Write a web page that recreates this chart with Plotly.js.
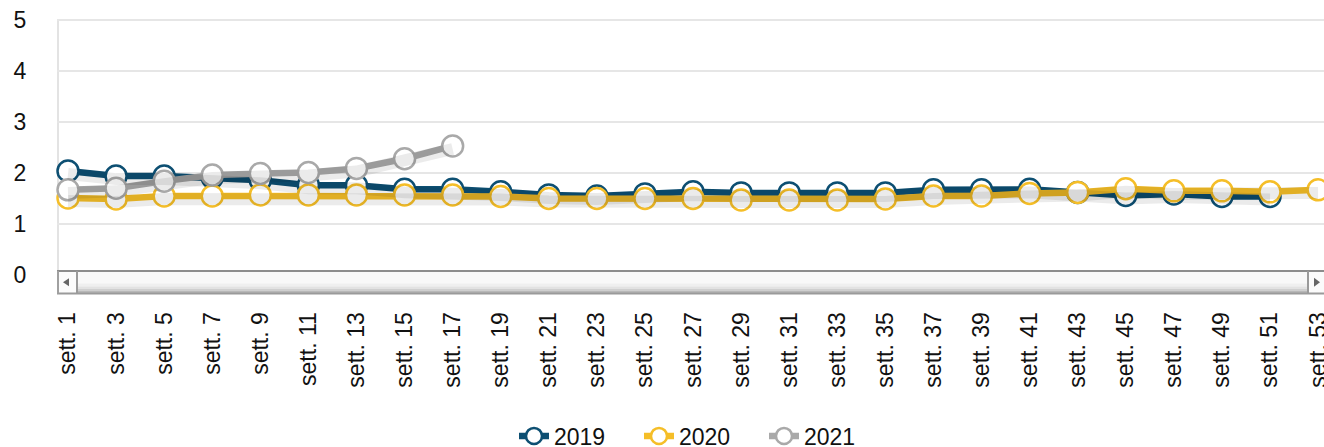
<!DOCTYPE html>
<html>
<head>
<meta charset="utf-8">
<script src="https://cdn.plot.ly/plotly-3.0.1.min.js"></script>
<style>html,body{margin:0;padding:0;background:#fff;}#chart{width:1324px;height:447px;}</style>
</head>
<body>
<div id="chart"></div>
<script>
// ---- data ----
const weeks = ["sett. 1","sett. 3","sett. 5","sett. 7","sett. 9","sett. 11","sett. 13","sett. 15","sett. 17","sett. 19","sett. 21","sett. 23","sett. 25","sett. 27","sett. 29","sett. 31","sett. 33","sett. 35","sett. 37","sett. 39","sett. 41","sett. 43","sett. 45","sett. 47","sett. 49","sett. 51","sett. 53"];
const values2019 = [2.04,1.94,1.94,1.91,1.86,1.76,1.76,1.68,1.68,1.63,1.57,1.55,1.59,1.63,1.61,1.61,1.61,1.61,1.67,1.67,1.68,1.62,1.56,1.59,1.54,1.54,null];
const values2020 = [1.51,1.49,1.55,1.55,1.57,1.57,1.57,1.57,1.57,1.54,1.50,1.50,1.50,1.50,1.47,1.47,1.47,1.49,1.55,1.55,1.60,1.62,1.69,1.65,1.65,1.63,1.67];
const values2021 = [1.67,1.70,1.84,1.96,1.99,2.01,2.09,2.28,2.53];
const seriesNames = ["2019","2020","2021"];
const yTicks = [0,1,2,3,4,5];

// ---- styling ----
const colors = ["#0d4f72","#f5be28","#a9a9a9"];
const W = 1324, H = 447;
const plotL = 57, plotR = 1324, plotT = 19.5, plotB = 275.5;
const px = x => (x - plotL) / (plotR - plotL);
const py = y => (plotB - y) / (plotB - plotT);

function mk(name, vals, color){
  return {
    type: "scatter", mode: "lines+markers", name: name,
    x: weeks.slice(0, vals.length), y: vals,
    line: {color: color, width: 6.5},
    marker: {size: 21, color: "#ffffff", line: {color: color, width: 2.5}},
    connectgaps: false, cliponaxis: false
  };
}
// soft shadows under lines
function shadow(vals){
  return {
    type: "scatter", mode: "lines", showlegend: false, hoverinfo: "skip",
    x: weeks.slice(0, vals.length), y: vals,
    line: {color: "rgba(0,0,0,0.08)", width: 12},
    yaxis: "y2"
  };
}
const allVals = [values2019, values2020, values2021];
const traces = [];
allVals.forEach(v => traces.push(shadow(v)));
allVals.forEach((v, i) => traces.push(mk(seriesNames[i], v, colors[i])));

const shapes = [];
const sbTop = 271.5, sbBot = 294, btnL = 77, btnR = 1308;
function rect(x0,y0,x1,y1,fill){
  shapes.push({type:"rect", xref:"paper", yref:"paper", x0:px(x0), x1:px(x1), y0:py(y0), y1:py(y1),
    fillcolor: fill, line:{width:0}, layer:"above"});
}
function seg(x0,y0,x1,y1,color,w,layer){
  shapes.push({type:"line", xref:"paper", yref:"paper", x0:px(x0), x1:px(x1), y0:py(y0), y1:py(y1),
    line:{color:color, width:w}, layer: layer || "above"});
}
// plot frame (left and top)
seg(plotL+1, sbTop, plotL+1, plotT, "#e3e3e3", 2, "below");
seg(plotL, plotT, plotR, plotT, "#e6e6e6", 2, "below");
// scrollbar body gradient
rect(plotL, sbTop, plotR, sbBot, "#f8f8f8");
rect(plotL, 284, plotR, 287, "#efefef");
rect(plotL, 287, plotR, 289.5, "#e2e2e2");
rect(plotL, 289.5, plotR, 291.5, "#cfcfcf");
rect(plotL, 291.5, plotR, sbBot, "#b8b8b8");
// buttons
rect(plotL, sbTop, btnL, sbBot, "#fbfbfb");
rect(btnR, sbTop, plotR, sbBot, "#fbfbfb");
// borders
seg(plotL, sbTop, plotR, sbTop, "#8c8c8c", 2);
seg(plotL, sbBot, plotR, sbBot, "#9a9a9a", 2);
seg(plotL+1, sbTop, plotL+1, sbBot, "#a0a0a0", 2);
seg(btnL, sbTop, btnL, sbBot, "#9a9a9a", 2);
seg(btnR, sbTop, btnR, sbBot, "#9a9a9a", 2);
// arrows
const cy = (sbTop + sbBot) / 2;
function tri(pts){
  const d = pts.map((p,i)=>(i?"L":"M")+px(p[0])+","+py(p[1])).join(" ")+" Z";
  shapes.push({type:"path", xref:"paper", yref:"paper", path:d, fillcolor:"#666666", line:{width:0}, layer:"above"});
}
tri([[63,cy],[69,cy-4],[69,cy+4]]);
tri([[1320,cy],[1314,cy-4.5],[1314,cy+4.5]]);

const layout = {
  width: W, height: H,
  margin: {l: plotL, r: W - plotR, t: plotT, b: H - plotB, pad: 0, autoexpand: false},
  paper_bgcolor: "#ffffff", plot_bgcolor: "#ffffff",
  font: {family: "Liberation Sans, Arial, sans-serif", size: 23, color: "#111111"},
  showlegend: true,
  legend: {orientation: "h", x: px(514), xanchor: "left", y: py(415.5), yanchor: "top",
           font: {size: 23, color: "#111111"}, traceorder: "normal", itemwidth: 30,
           entrywidth: 80, entrywidthmode: "pixels", bgcolor: "rgba(0,0,0,0)"},
  xaxis: {type: "category", range: [(plotL - 68) / 48.08, (plotR - 68) / 48.08],
          showgrid: false, zeroline: false, showline: false,
          ticks: "outside", ticklen: 27, tickcolor: "rgba(0,0,0,0)", tickangle: -90,
          tickfont: {size: 23, color: "#111111"}, fixedrange: true},
  yaxis: {range: [0, 5], tickvals: yTicks, ticktext: yTicks.map(String),
          showgrid: true, gridcolor: "#e6e6e6", gridwidth: 2,
          zeroline: false, showline: false,
          ticks: "outside", ticklen: 25, tickcolor: "rgba(0,0,0,0)",
          tickfont: {size: 23, color: "#111111"}, fixedrange: true},
  yaxis2: {overlaying: "y", range: [0.06, 5.06], visible: false, fixedrange: true},
  shapes: shapes
};
Plotly.newPlot("chart", traces, layout, {displayModeBar: false, staticPlot: true});
</script>
</body>
</html>
